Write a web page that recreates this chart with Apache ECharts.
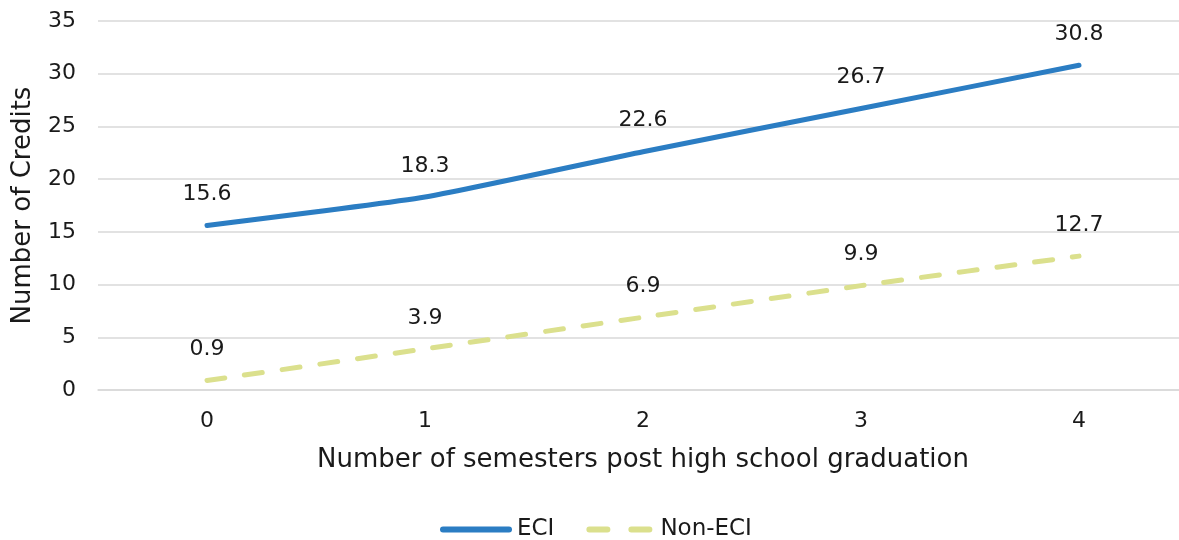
<!DOCTYPE html>
<html>
<head>
<meta charset="utf-8">
<script src="https://cdn.jsdelivr.net/npm/echarts@6/dist/echarts.min.js"></script>
<style>
  html, body { margin: 0; padding: 0; background: #fff; }
  #chart { width: 1179px; height: 540px; }
</style>
</head>
<body>
<div id="chart"></div>
<script>
  var semesters = ['0', '1', '2', '3', '4'];
  var eciCredits = [15.6, 18.3, 22.6, 26.7, 30.8];
  var nonEciCredits = [0.9, 3.9, 6.9, 9.9, 12.7];

  var font = 'DejaVu Sans';
  var chart = echarts.init(document.getElementById('chart'));

  chart.setOption({
    animation: false,
    textStyle: { fontFamily: font, color: '#1a1a1a' },
    grid: { left: 98, width: 1090, top: 21, height: 369, outerBoundsMode: 'none', containLabel: false },
    legend: {
      top: 513,
      left: 435,
      itemWidth: 72,
      itemHeight: 6,
      itemGap: 32,
      textStyle: { fontSize: 23, color: '#1a1a1a', fontFamily: font },
      data: [
        { name: 'ECI', icon: 'path://M3,0 h66 a3,3 0 0 1 0,6 h-66 a3,3 0 0 1 0,-6 z' },
        { name: 'Non-ECI', icon: 'path://M3,0 h18 a3,3 0 0 1 0,6 h-18 a3,3 0 0 1 0,-6 z M45,0 h18 a3,3 0 0 1 0,6 h-18 a3,3 0 0 1 0,-6 z' }
      ]
    },
    xAxis: {
      type: 'category',
      data: semesters,
      boundaryGap: true,
      name: 'Number of semesters post high school graduation',
      nameLocation: 'middle',
      nameGap: 57,
      nameTextStyle: { fontSize: 26, color: '#1a1a1a' },
      axisLine: { lineStyle: { color: '#d9d9d9', width: 1.5 } },
      axisTick: { show: false },
      axisLabel: { fontSize: 22, color: '#1a1a1a', margin: 20 }
    },
    yAxis: {
      type: 'value',
      min: 0,
      max: 35,
      interval: 5,
      name: 'Number of Credits',
      nameLocation: 'middle',
      nameGap: 62,
      nameTextStyle: { fontSize: 26, color: '#1a1a1a' },
      axisLine: { show: false },
      axisTick: { show: false },
      axisLabel: { fontSize: 22, color: '#1a1a1a', margin: 22 },
      splitLine: { lineStyle: { color: '#d9d9d9', width: 1.5 } }
    },
    series: [
      {
        name: 'ECI',
        type: 'line',
        data: eciCredits,
        smooth: 0.15,
        symbol: 'circle',
        symbolSize: 0,
        color: '#2b7dc3',
        lineStyle: { width: 5, cap: 'round' },
        label: {
          show: true,
          position: 'top',
          distance: 20,
          fontSize: 22,
          color: '#1a1a1a'
        }
      },
      {
        name: 'Non-ECI',
        type: 'line',
        data: nonEciCredits,
        smooth: 0.15,
        symbol: 'circle',
        symbolSize: 0,
        color: '#dbe08d',
        lineStyle: { width: 5, type: [18, 20], cap: 'round' },
        label: {
          show: true,
          position: 'top',
          distance: 20,
          fontSize: 22,
          color: '#1a1a1a'
        }
      }
    ]
  });
</script>
</body>
</html>
